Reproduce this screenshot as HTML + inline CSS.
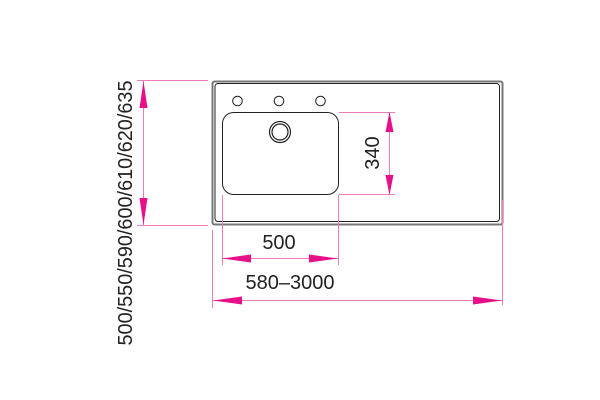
<!DOCTYPE html>
<html><head><meta charset="utf-8"><style>html,body{margin:0;padding:0;background:#fff}svg{display:block}</style></head>
<body>
<svg width="600" height="400" viewBox="0 0 600 400" xmlns="http://www.w3.org/2000/svg">
<g font-family="Liberation Sans, sans-serif" fill="#222">
<!-- worktop -->
<rect x="212.5" y="81.5" width="290" height="143" rx="2" fill="none" stroke="#777" stroke-width="2"/>
<rect x="215" y="83.5" width="284.5" height="138" rx="3" fill="none" stroke="#222" stroke-width="1"/>
<!-- bowl -->
<rect x="222.5" y="112.5" width="116" height="82" rx="11" fill="none" stroke="#222" stroke-width="1"/>
<circle cx="280" cy="132" r="10.5" fill="none" stroke="#222" stroke-width="1.2"/>
<circle cx="280" cy="132" r="8" fill="none" stroke="#222" stroke-width="1.2"/>
<circle cx="237.5" cy="101" r="4.8" fill="none" stroke="#222" stroke-width="1"/>
<circle cx="279" cy="101" r="4.8" fill="none" stroke="#222" stroke-width="1"/>
<circle cx="320.5" cy="101" r="4.8" fill="none" stroke="#222" stroke-width="1"/>
</g>
<g stroke="#f07ab8" stroke-width="1" fill="none">
<!-- left dim ext -->
<line x1="137" y1="80.5" x2="208" y2="80.5"/>
<line x1="137" y1="225.5" x2="208" y2="225.5"/>
<line x1="143.5" y1="81" x2="143.5" y2="225"/>
<!-- 340 -->
<line x1="339" y1="112.5" x2="395" y2="112.5"/>
<line x1="339" y1="194.5" x2="395" y2="194.5"/>
<line x1="389.5" y1="112" x2="389.5" y2="195"/>
<!-- 500 -->
<line x1="222.5" y1="195" x2="222.5" y2="265"/>
<line x1="338.5" y1="195" x2="338.5" y2="265"/>
<line x1="222" y1="258.5" x2="338" y2="258.5"/>
<!-- 580 -->
<line x1="212.5" y1="230" x2="212.5" y2="308"/>
<line x1="502.5" y1="200" x2="502.5" y2="305"/>
<line x1="213" y1="300.5" x2="502" y2="300.5"/>
</g>
<g fill="#e8108a">
<polygon points="143.5,81 139.5,108 147.5,108"/>
<polygon points="143.5,225 139.5,198 147.5,198"/>
<polygon points="389.5,112 385.5,132 393.5,132"/>
<polygon points="389.5,195 385.5,175 393.5,175"/>
<polygon points="222,258.5 251,254.5 251,262.5"/>
<polygon points="338,258.5 309,254.5 309,262.5"/>
<polygon points="213,300.5 242,296.5 242,304.5"/>
<polygon points="502,300.5 473,296.5 473,304.5"/>
</g>
<g font-family="Liberation Sans, sans-serif" fill="#222" font-size="20">
<text x="279" y="249" text-anchor="middle">500</text>
<text x="290" y="289" text-anchor="middle">580–3000</text>
<text transform="translate(379,153) rotate(-90)" text-anchor="middle">340</text>
<text transform="translate(132,213) rotate(-90)" text-anchor="middle" textLength="265" lengthAdjust="spacingAndGlyphs">500/550/590/600/610/620/635</text>
</g>
</svg>
</body></html>
